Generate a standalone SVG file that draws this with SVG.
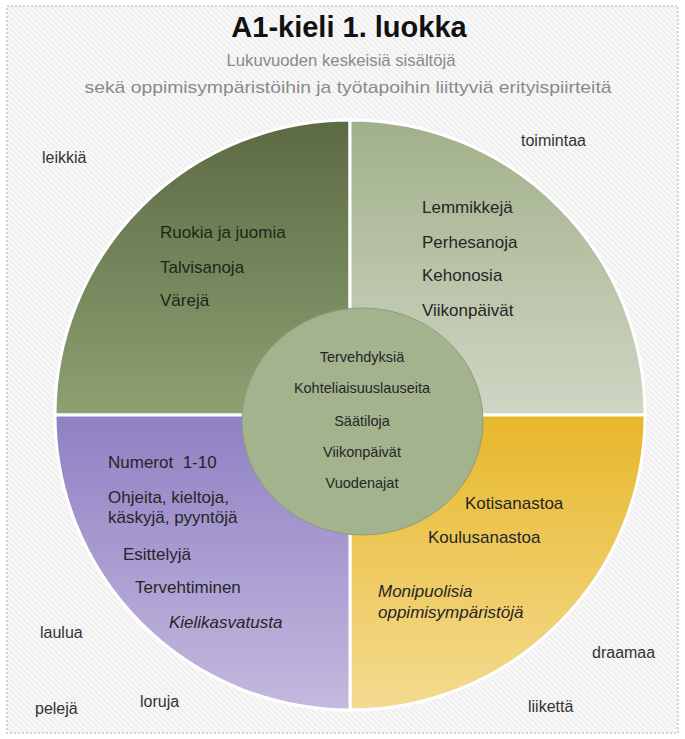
<svg xmlns="http://www.w3.org/2000/svg" width="685" height="739" viewBox="0 0 685 739">
<defs>
<pattern id="hatch" width="4" height="4" patternUnits="userSpaceOnUse" patternTransform="rotate(-45)">
<rect width="4" height="4" fill="#efefef"/>
<rect width="1.6" height="4" fill="#fbfbfb"/>
</pattern>
<linearGradient id="gTL" x1="0" y1="0" x2="0" y2="1"><stop offset="0" stop-color="#5b6a43"/><stop offset="1" stop-color="#8fa073"/></linearGradient>
<linearGradient id="gTR" x1="0" y1="0" x2="0" y2="1"><stop offset="0" stop-color="#a1b08a"/><stop offset="1" stop-color="#cfd6c4"/></linearGradient>
<linearGradient id="gBL" x1="0" y1="0" x2="0" y2="1"><stop offset="0" stop-color="#9080c4"/><stop offset="1" stop-color="#c4b9de"/></linearGradient>
<linearGradient id="gBR" x1="0" y1="0" x2="0" y2="1"><stop offset="0" stop-color="#e7b72a"/><stop offset="1" stop-color="#f4db91"/></linearGradient>
</defs>
<style>
text{font-family:"Liberation Sans",Arial,sans-serif;}
.q{stroke:#ffffff;stroke-width:3;}
.t{font-size:17px;fill:#262626;}
.tl{font-size:17px;fill:#1e2616;}
.c{font-size:14.5px;fill:#262626;text-anchor:middle;}
.o{font-size:16px;fill:#333333;}
.i{font-style:italic;}
.sub{font-size:17px;fill:#8a8a8a;text-anchor:middle;}
</style>
<rect x="7" y="6" width="671" height="727" fill="url(#hatch)" stroke="#c8c8c8" stroke-width="1.5" stroke-dasharray="2,2"/>
<g id="title">
<text x="349" y="37" text-anchor="middle" font-size="29" font-weight="bold" fill="#111111">A1-kieli 1. luokka</text>
<text class="sub" x="341" y="66" textLength="229" lengthAdjust="spacingAndGlyphs">Lukuvuoden keskeisiä sisältöjä</text>
<text class="sub" x="348" y="93" textLength="527" lengthAdjust="spacingAndGlyphs">sekä oppimisympäristöihin ja työtapoihin liittyviä erityispiirteitä</text>
</g>
<g id="quadrant-top-left">
<path class="q" d="M350,415 L55,415 A295,295 0 0 1 350,120 Z" fill="url(#gTL)"/>
<text class="tl" x="160" y="238">Ruokia ja juomia</text>
<text class="tl" x="160" y="273">Talvisanoja</text>
<text class="tl" x="160" y="306">Värejä</text>
</g>
<g id="quadrant-top-right">
<path class="q" d="M350,415 L350,120 A295,295 0 0 1 645,415 Z" fill="url(#gTR)"/>
<text class="t" x="422" y="213">Lemmikkejä</text>
<text class="t" x="422" y="248">Perhesanoja</text>
<text class="t" x="422" y="281">Kehonosia</text>
<text class="t" x="422" y="316">Viikonpäivät</text>
</g>
<g id="quadrant-bottom-right">
<path class="q" d="M350,415 L645,415 A295,295 0 0 1 350,710 Z" fill="url(#gBR)"/>
<text class="t" x="465" y="509">Kotisanastoa</text>
<text class="t" x="428" y="543">Koulusanastoa</text>
<text class="t i" x="378" y="597">Monipuolisia</text>
<text class="t i" x="378" y="618">oppimisympäristöjä</text>
</g>
<g id="quadrant-bottom-left">
<path class="q" d="M350,415 L350,710 A295,295 0 0 1 55,415 Z" fill="url(#gBL)"/>
<text class="t" x="108" y="468">Numerot&#160; 1-10</text>
<text class="t" x="108" y="503">Ohjeita, kieltoja,</text>
<text class="t" x="108" y="523">käskyjä, pyyntöjä</text>
<text class="t" x="123" y="560">Esittelyjä</text>
<text class="t" x="135" y="593">Tervehtiminen</text>
<text class="t i" x="169" y="628">Kielikasvatusta</text>
</g>
<g id="center">
<ellipse cx="362.5" cy="421.5" rx="120.5" ry="113.5" fill="#a3b38d" stroke="#8d9c79" stroke-width="1"/>
<text class="c" x="362" y="362">Tervehdyksiä</text>
<text class="c" x="362" y="393">Kohteliaisuuslauseita</text>
<text class="c" x="362" y="426">Säätiloja</text>
<text class="c" x="362" y="457">Viikonpäivät</text>
<text class="c" x="362" y="488">Vuodenajat</text>
</g>
<g id="outer-labels">
<text class="o" x="42" y="163">leikkiä</text>
<text class="o" x="521" y="146">toimintaa</text>
<text class="o" x="40" y="638">laulua</text>
<text class="o" x="35" y="714">pelejä</text>
<text class="o" x="140" y="707">loruja</text>
<text class="o" x="592" y="658">draamaa</text>
<text class="o" x="528" y="712">liikettä</text>
</g>
<g id="connectors"/>
</svg>
